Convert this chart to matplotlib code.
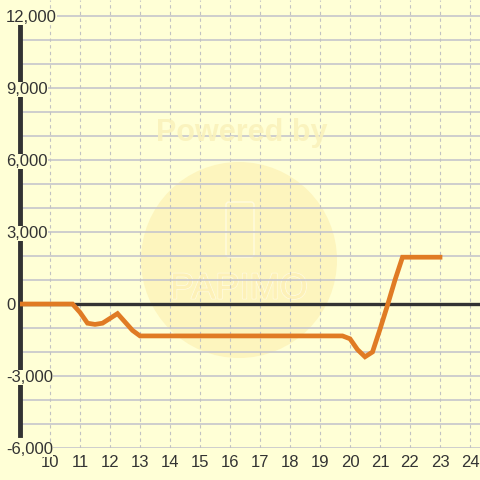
import matplotlib.pyplot as plt
import matplotlib.patheffects as pe
from matplotlib.patches import Circle, FancyBboxPatch

# hour of day vs. balance
hours = [9.0, 10.75, 11.0, 11.25, 11.5, 11.75, 12.0, 12.25, 12.5, 12.75, 13.0,
         19.75, 20.0, 20.25, 20.5, 20.75, 21.0, 21.25, 21.5, 21.75, 23.0]
balance = [0, 0, -350, -800, -850, -800, -600, -400, -750, -1100, -1330,
           -1330, -1450, -1900, -2200, -2000, -1050, -50, 1000, 1950, 1950]

x_ticks = list(range(10, 25))
y_ticks = [-6000, -3000, 0, 3000, 6000, 9000, 12000]
y_minor = list(range(-6000, 12001, 1000))

bg = '#ffffd6'
plt.rcParams['font.family'] = ['Liberation Sans', 'DejaVu Sans']

fig = plt.figure(figsize=(4.8, 4.8), dpi=100, facecolor=bg)
ax = fig.add_axes([20 / 480, 32 / 480, 460 / 480, 448 / 480], facecolor=bg)
ax.set_xlim(9.0, 9.0 + 460 / 30)
ax.set_ylim(-6000, 12000 + 16 / 24 * 1000)

# watermark
ax.add_patch(Circle((239, 480 - 260), 98, transform=None, facecolor='#fdf1b4',
                    edgecolor='none', alpha=0.7, zorder=0.5))
ax.add_patch(FancyBboxPatch((226, 480 - 257), 28, 55, boxstyle='round,pad=0,rounding_size=3',
                            transform=None, facecolor='none', edgecolor='#fffbe0',
                            lw=1.0, zorder=0.6))
fig.text(242 / 480, 1 - 133 / 480, 'Powered by', ha='center', va='center',
         fontsize=22, fontweight='bold', color='#faf2bc', alpha=0.9, zorder=0)
ax.text(239, 480 - 289, 'PAPIMO', transform=None, ha='center', va='center',
        fontsize=26, color='#fdf1b8', zorder=0.7,
        path_effects=[pe.withStroke(linewidth=1.3, foreground='#fffbe0'),
                      pe.Normal()])

for v in y_minor:
    ax.axhline(v, color='#c6c6cc', lw=1.2, zorder=1)
for v in x_ticks:
    ax.axvline(v, color='#c2c2c2', lw=0.8, ls=(0, (3, 3)), zorder=1)

ax.axhline(0, color='#333333', lw=2.4, zorder=2)
ax.plot(hours, balance, color='#e07b24', lw=3.4, solid_joinstyle='miter', zorder=3)

for s in ['top', 'right', 'bottom']:
    ax.spines[s].set_visible(False)
ax.spines['left'].set_color('#333333')
ax.spines['left'].set_linewidth(3.5)
ax.spines['left'].set_bounds(-5450, 11650)

ax.set_xticks(x_ticks)
ax.set_yticks(y_ticks)
ax.set_yticklabels([])
ax.tick_params(axis='both', length=0, labelsize=12, labelcolor='#333333')
ax.tick_params(axis='x', pad=5)

# y labels drawn on the figure, above the spine, with a background box
fig.canvas.draw()
for v in y_ticks:
    _, yd = ax.transData.transform((9.0, v))
    fig.text(6 / 480, yd / fig.bbox.height, f'{v:,}', ha='left', va='center_baseline',
             fontsize=12, color='#333333', zorder=5,
             bbox=dict(facecolor=bg, edgecolor='none', pad=0.3))

fig.savefig('out.png', dpi=100, facecolor=bg)
